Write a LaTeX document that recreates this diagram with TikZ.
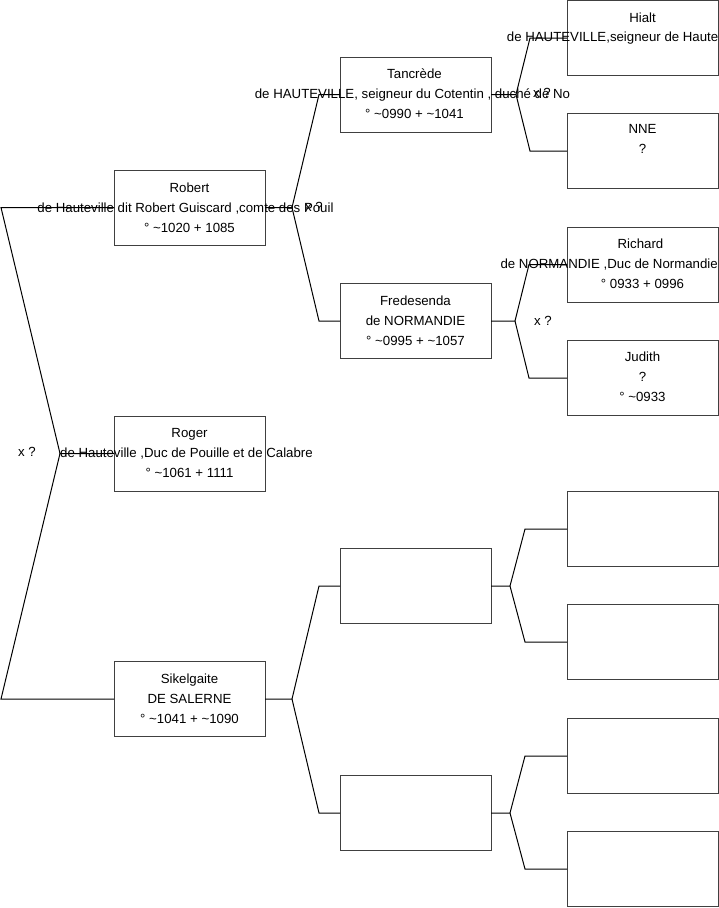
\documentclass[tikz,border=0pt]{standalone}
\usepackage{fontspec}
\setmainfont{Liberation Sans}
\begin{document}
\begin{tikzpicture}[x=1pt,y=-1pt,
  box/.style={draw=black!75, fill=white, line width=1pt, minimum width=151pt, minimum height=75pt, inner sep=0pt, outer sep=0pt},
  txt/.style={font=\fontsize{13.25}{15}\selectfont, inner sep=0pt, anchor=base},
  txte/.style={txt, anchor=base east},
  link/.style={draw=black, line width=1pt},
]
\useasboundingbox (0,0) rectangle (719,908);
% generation 1
\node[box] (rob) at (189.5,207.5) {};
\node[box] (rog) at (189.5,453.5) {};
\node[box] (sik) at (189.5,699) {};
% generation 2
\node[box] (tan) at (415.5,94.5) {};
\node[box] (fre) at (415.5,321) {};
\node[box] (ea) at (415.5,586) {};
\node[box] (eb) at (415.5,813) {};
% generation 3
\node[box] (hia) at (642.5,38) {};
\node[box] (nne) at (642.5,151) {};
\node[box] (ric) at (642.5,264.5) {};
\node[box] (jud) at (642.5,378) {};
\node[box] (ec) at (642.5,529) {};
\node[box] (ed) at (642.5,642) {};
\node[box] (ee) at (642.5,756) {};
\node[box] (ef) at (642.5,869) {};
% texts
\node[txt] (rob1) at (189.5,192.5) {Robert};
\node[txt] (rob2) at (185.5,212.5) {de Hauteville dit Robert Guiscard ,comte des Pouil};
\node[txt] (rob3) at (189.5,232.5) {° \textasciitilde1020 + 1085};
\node[txt] (rog1) at (189.5,437.5) {Roger};
\node[txt] (rog2) at (186.5,457.5) {de Hauteville ,Duc de Pouille et de Calabre};
\node[txt] (rog3) at (189.5,477.5) {° \textasciitilde1061 + 1111};
\node[txt] (sik1) at (189.5,683.5) {Sikelgaite};
\node[txt] (sik2) at (189.5,703.5) {DE SALERNE};
\node[txt] (sik3) at (189.5,723.5) {° \textasciitilde1041 + \textasciitilde1090};
\node[txt] (tan1) at (414.5,78) {Tancrède};
\node[txt] (tan2) at (412.5,98) {de HAUTEVILLE, seigneur du Cotentin , duché de No};
\node[txt] (tan3) at (414.5,118) {° \textasciitilde0990 + \textasciitilde1041};
\node[txt] (fre1) at (415.5,305.5) {Fredesenda};
\node[txt] (fre2) at (415.5,325.5) {de NORMANDIE};
\node[txt] (fre3) at (415.5,345.5) {° \textasciitilde0995 + \textasciitilde1057};
\node[txt] (hia1) at (642.5,22) {Hialt};
\node[txte] (hia2) at (718.5,41) {de HAUTEVILLE,seigneur de Haute};
\node[txt] (nne1) at (642.5,133) {NNE};
\node[txt] (nne2) at (642.5,153) {?};
\node[txt] (ric1) at (640.5,248) {Richard};
\node[txte] (ric2) at (718,268) {de NORMANDIE ,Duc de Normandie};
\node[txt] (ric3) at (642.5,288) {° 0933 + 0996};
\node[txt] (jud1) at (642.5,361) {Judith};
\node[txt] (jud2) at (642.5,381) {?};
\node[txt] (jud3) at (642.5,401) {° \textasciitilde0933};
% marriage labels
\node[txt] (m0) at (27,456.5) {x ?};
\node[txt] (m1) at (314,211.5) {x ?};
\node[txt] (m2) at (542,97) {x ?};
\node[txt] (m3) at (543,325.5) {x ?};
% fork points
\coordinate (r0) at (60,453.5);
\coordinate (ra) at (1,207.5);
\coordinate (rb) at (1,699);
\coordinate (f1) at (292,207.5);
\coordinate (f1a) at (319,94.5);
\coordinate (f1b) at (319,321);
\coordinate (f2) at (292,699);
\coordinate (f2a) at (319,586);
\coordinate (f2b) at (319,813);
\coordinate (f3) at (516,94.5);
\coordinate (f3a) at (530,38);
\coordinate (f3b) at (530,151);
\coordinate (f4) at (515,321);
\coordinate (f4a) at (529,264.5);
\coordinate (f4b) at (529,378);
\coordinate (f5) at (510,586);
\coordinate (f5a) at (525,529);
\coordinate (f5b) at (525,642);
\coordinate (f6) at (510,813);
\coordinate (f6a) at (525,756);
\coordinate (f6b) at (525,869);
% connectors
\draw[link] (rog.west) -- (r0) -- (ra) -- (rob.west);
\draw[link] (r0) -- (rb) -- (sik.west);
\draw[link] (rob.east) -- (f1) -- (f1a) -- (tan.west);
\draw[link] (f1) -- (f1b) -- (fre.west);
\draw[link] (sik.east) -- (f2) -- (f2a) -- (ea.west);
\draw[link] (f2) -- (f2b) -- (eb.west);
\draw[link] (tan.east) -- (f3) -- (f3a) -- (hia.west);
\draw[link] (f3) -- (f3b) -- (nne.west);
\draw[link] (fre.east) -- (f4) -- (f4a) -- (ric.west);
\draw[link] (f4) -- (f4b) -- (jud.west);
\draw[link] (ea.east) -- (f5) -- (f5a) -- (ec.west);
\draw[link] (f5) -- (f5b) -- (ed.west);
\draw[link] (eb.east) -- (f6) -- (f6a) -- (ee.west);
\draw[link] (f6) -- (f6b) -- (ef.west);
\end{tikzpicture}
\end{document}
